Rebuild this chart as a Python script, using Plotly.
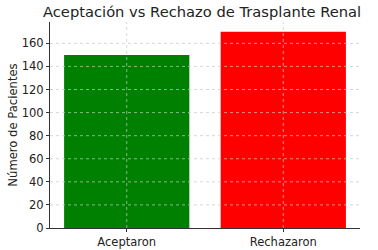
import plotly.graph_objects as go

categories = ["Aceptaron", "Rechazaron"]
values = [150, 170]
colors = ["#008000", "#ff0000"]
y_ticks = [0, 20, 40, 60, 80, 100, 120, 140, 160]

fig = go.Figure(go.Bar(x=[0, 1], y=values, width=0.8, marker=dict(color=colors, line=dict(width=0))))

font = "DejaVu Sans, sans-serif"
grid_color = "rgba(200,200,200,0.7)"
axis_common = dict(
    showline=True, linecolor="#333333", linewidth=1,
    ticks="outside", ticklen=3, tickcolor="#333333",
    showgrid=False, zeroline=False, automargin=False,
    tickfont=dict(family=font, size=11.5, color="#222222"),
)
# gridlines drawn above the bars, like the reference
for v in y_ticks[1:]:
    fig.add_shape(type="line", xref="paper", x0=0, x1=1, yref="y", y0=v, y1=v,
                  line=dict(color=grid_color, width=1, dash="dot"), layer="above")
for i in range(len(categories)):
    fig.add_shape(type="line", xref="x", x0=i, x1=i, yref="paper", y0=0, y1=1,
                  line=dict(color=grid_color, width=1, dash="dot"), layer="above")

fig.update_layout(
    width=378, height=250,
    margin=dict(l=50, r=18, t=22, b=22),
    plot_bgcolor="white", paper_bgcolor="white",
    showlegend=False,
    title=dict(text="Aceptación vs Rechazo de Trasplante Renal", x=43/378, xanchor="left", xref="container",
               y=1 - 12/250, yanchor="middle", pad=dict(l=0, r=0, t=0, b=0),
               font=dict(family=font, size=14.7, color="#222222")),
    xaxis=dict(range=[-0.49, 1.49], tickvals=[0, 1], ticktext=categories, **axis_common),
    yaxis=dict(range=[0, 178.5], tickvals=y_ticks,
               title=dict(text="Número de Pacientes", font=dict(family=font, size=11.6, color="#222222"), standoff=1),
               **axis_common),
)
fig.write_html("out.html", config={"displayModeBar": False},
               post_script="document.body.style.margin='0';document.body.style.overflow='hidden';")
